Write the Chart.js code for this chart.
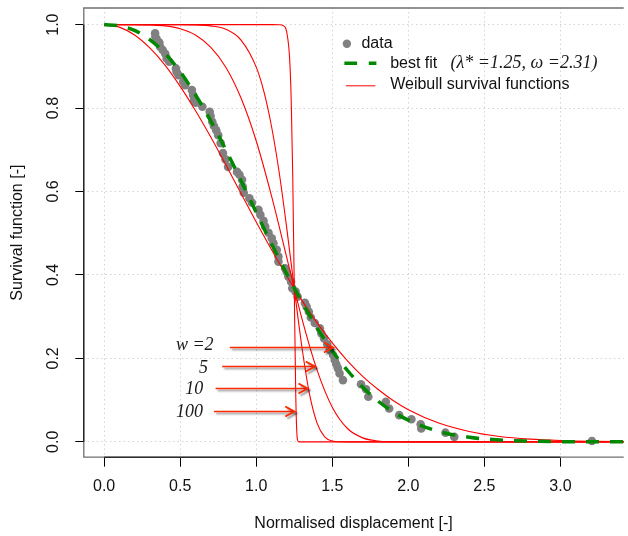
<!DOCTYPE html>
<html>
<head>
<meta charset="utf-8">
<script src="https://cdn.jsdelivr.net/npm/chart.js@4.4.0/dist/chart.umd.min.js"></script>
<style>
  html, body { margin: 0; padding: 0; background: #fff; overflow: hidden; }
  canvas { display: block; }
</style>
</head>
<body>
<canvas id="chart" width="628" height="536"></canvas>
<script>
// Observed data (normalised displacement vs empirical survival)
const dataX = [0.335, 0.337, 0.346, 0.363, 0.368, 0.385, 0.402, 0.411, 0.428, 0.472, 0.476, 0.489,
  0.520, 0.533, 0.577, 0.585, 0.592, 0.603, 0.646, 0.694, 0.700, 0.711, 0.722, 0.737, 0.750,
  0.766, 0.781, 0.798, 0.815, 0.874, 0.890, 0.907, 0.911, 0.918, 0.955, 0.972, 1.015, 1.027,
  1.048, 1.059, 1.081, 1.102, 1.113, 1.135, 1.146, 1.146, 1.190, 1.200, 1.211, 1.229, 1.237,
  1.259, 1.272, 1.320, 1.331, 1.346, 1.359, 1.385, 1.418, 1.428, 1.446, 1.467, 1.483, 1.505,
  1.516, 1.526, 1.537, 1.548, 1.570, 1.689, 1.722, 1.737, 1.852, 1.874, 1.940, 2.020, 2.081,
  2.085, 2.244, 2.302, 3.207];
const dataY = [0.979, 0.971, 0.965, 0.957, 0.947, 0.939, 0.930, 0.919, 0.911, 0.895, 0.887, 0.879,
  0.863, 0.855, 0.843, 0.831, 0.819, 0.813, 0.803, 0.791, 0.781, 0.767, 0.757, 0.747, 0.735,
  0.716, 0.692, 0.677, 0.659, 0.647, 0.640, 0.628, 0.612, 0.597, 0.584, 0.573, 0.556, 0.544,
  0.530, 0.516, 0.501, 0.488, 0.476, 0.460, 0.444, 0.432, 0.416, 0.408, 0.396, 0.384, 0.368,
  0.360, 0.348, 0.333, 0.324, 0.312, 0.298, 0.285, 0.272, 0.260, 0.248, 0.234, 0.220, 0.208,
  0.196, 0.186, 0.176, 0.164, 0.148, 0.138, 0.126, 0.108, 0.096, 0.080, 0.064, 0.054, 0.042,
  0.032, 0.022, 0.012, 0.002];

// Best fit curve
const fitX = [0, 0.1, 0.2, 0.3, 0.4, 0.5, 0.6, 0.7, 0.8, 0.9, 1.0, 1.1, 1.2, 1.3, 1.4, 1.5, 1.6,
  1.7, 1.8, 1.9, 2.0, 2.2, 2.4, 2.6, 2.8, 3.0, 3.2, 3.5];
const fitY = [1, 0.997, 0.986, 0.964, 0.931, 0.887, 0.832, 0.770, 0.700, 0.626, 0.550, 0.475,
  0.403, 0.335, 0.273, 0.218, 0.171, 0.131, 0.098, 0.072, 0.052, 0.025, 0.011, 0.0044, 0.0016,
  0.0005, 0.0002, 0];

// Weibull survival curves for w = 2, 5, 10, 100
const w2X = [0, 0.1, 0.2, 0.3, 0.4, 0.5, 0.6, 0.7, 0.8, 0.9, 1.0, 1.1, 1.2, 1.3, 1.4, 1.5, 1.6,
  1.7, 1.8, 1.9, 2.0, 2.2, 2.4, 2.6, 2.8, 3.0, 3.2, 3.5];
const w2Y = [1, 0.994, 0.975, 0.944, 0.903, 0.852, 0.794, 0.731, 0.664, 0.595, 0.527, 0.461,
  0.398, 0.339, 0.285, 0.237, 0.194, 0.157, 0.126, 0.099, 0.077, 0.045, 0.025, 0.013, 0.0066,
  0.0032, 0.0014, 0.0004];
const w5X = [0, 0.2, 0.3, 0.4, 0.5, 0.6, 0.7, 0.8, 0.9, 1.0, 1.1, 1.2, 1.3, 1.4, 1.5, 1.6, 1.7,
  1.8, 1.9, 2.0, 3.5];
const w5Y = [1, 1, 0.999, 0.997, 0.990, 0.975, 0.946, 0.898, 0.824, 0.721, 0.590, 0.443, 0.296,
  0.172, 0.083, 0.032, 0.0095, 0.002, 0.0003, 0, 0];
const w10X = [0, 0.5, 0.6, 0.7, 0.8, 0.9, 1.0, 1.05, 1.1, 1.15, 1.2, 1.25, 1.3, 1.35, 1.4, 1.45,
  1.5, 1.55, 1.6, 1.7, 3.5];
const w10Y = [1, 1, 0.999, 0.997, 0.989, 0.963, 0.898, 0.840, 0.757, 0.648, 0.514, 0.368, 0.228,
  0.115, 0.045, 0.012, 0.002, 0.0002, 0, 0, 0];
const w100X = [0, 1.1, 1.15, 1.18, 1.2, 1.22, 1.23, 1.24, 1.25, 1.26, 1.27, 1.28, 1.3, 3.5];
const w100Y = [1, 1, 0.9998, 0.997, 0.983, 0.916, 0.819, 0.639, 0.368, 0.109, 0.0075, 0, 0, 0];

const xTicks = [0, 0.5, 1.0, 1.5, 2.0, 2.5, 3.0];
const yTicks = [0, 0.2, 0.4, 0.6, 0.8, 1.0];

// arrow annotations (data units)
const arrowNotes = [
  { text: 'w =2', tx: 0.472, ty: 0.22, y: 0.228, x0: 0.826, x1: 1.504 },
  { text: '5', tx: 0.624, ty: 0.1655, y: 0.1815, x0: 0.776, x1: 1.385 },
  { text: '10', tx: 0.533, ty: 0.114, y: 0.128, x0: 0.733, x1: 1.337 },
  { text: '100', tx: 0.472, ty: 0.059, y: 0.0743, x0: 0.722, x1: 1.250 },
];

const pts = (xs, ys) => xs.map((x, i) => ({ x: x, y: ys[i] }));

const SANS = '"Liberation Sans", Arial, sans-serif';
const SERIF = '"Liberation Serif", "Times New Roman", serif';

const framePlugin = {
  id: 'frame',
  afterDraw(chart) {
    const { ctx, chartArea: a, scales: { x, y } } = chart;
    ctx.save();
    ctx.strokeStyle = '#707070';
    ctx.lineWidth = 1.3;
    ctx.beginPath();
    ctx.moveTo(a.right, a.top + 0.5);
    ctx.lineTo(a.left + 0.5, a.top + 0.5);
    ctx.lineTo(a.left + 0.5, a.bottom - 0.5);
    ctx.lineTo(a.right, a.bottom - 0.5);
    ctx.stroke();
    // axis lines over the tick range
    ctx.strokeStyle = '#000';
    ctx.lineWidth = 1;
    ctx.beginPath();
    ctx.moveTo(x.getPixelForValue(xTicks[0]), a.bottom - 0.5);
    ctx.lineTo(x.getPixelForValue(xTicks[xTicks.length - 1]), a.bottom - 0.5);
    ctx.moveTo(a.left + 0.5, y.getPixelForValue(yTicks[0]));
    ctx.lineTo(a.left + 0.5, y.getPixelForValue(yTicks[yTicks.length - 1]));
    ctx.stroke();
    ctx.restore();
  }
};

const notesPlugin = {
  id: 'notes',
  afterDatasetsDraw(chart) {
    const { ctx, scales: { x, y } } = chart;
    ctx.save();
    arrowNotes.forEach((n) => {
      const py = Math.round(y.getPixelForValue(n.y)) + 0.5;
      const p0 = x.getPixelForValue(n.x0);
      const p1 = x.getPixelForValue(n.x1);
      ctx.save();
      ctx.shadowColor = 'rgba(0,0,0,0.45)';
      ctx.shadowOffsetX = 2;
      ctx.shadowOffsetY = 2;
      ctx.shadowBlur = 2;
      ctx.strokeStyle = '#ff2a00';
      ctx.lineWidth = 1.3;
      ctx.beginPath();
      ctx.moveTo(p0, py);
      ctx.lineTo(p1, py);
      ctx.stroke();
      ctx.lineWidth = 2;
      ctx.beginPath();
      ctx.moveTo(p1 - 9, py - 5);
      ctx.lineTo(p1, py);
      ctx.lineTo(p1 - 9, py + 5);
      ctx.stroke();
      ctx.restore();
      ctx.fillStyle = '#1a1a1a';
      ctx.font = 'italic 18px ' + SERIF;
      ctx.textBaseline = 'alphabetic';
      ctx.textAlign = 'left';
      ctx.fillText(n.text, x.getPixelForValue(n.tx), y.getPixelForValue(n.ty));
    });
    ctx.restore();
  }
};

const legendPlugin = {
  id: 'customLegend',
  afterDraw(chart) {
    const { ctx, scales: { x, y } } = chart;
    const lx = x.getPixelForValue(1.596);
    const ly = y.getPixelForValue(0.954);
    ctx.save();
    ctx.textBaseline = 'middle';
    ctx.textAlign = 'left';
    ctx.fillStyle = '#808080';
    ctx.beginPath();
    ctx.arc(lx, ly, 4.2, 0, Math.PI * 2);
    ctx.fill();

    ctx.strokeStyle = '#008800';
    ctx.lineWidth = 3.5;
    ctx.setLineDash([12.7, 11.7]);
    ctx.beginPath();
    ctx.moveTo(lx - 2.5, ly + 19.5);
    ctx.lineTo(lx + 29.5, ly + 19.5);
    ctx.stroke();
    ctx.setLineDash([]);

    ctx.strokeStyle = '#ff0000';
    ctx.lineWidth = 1;
    ctx.beginPath();
    ctx.moveTo(lx - 1, ly + 42);
    ctx.lineTo(lx + 28.5, ly + 42);
    ctx.stroke();

    ctx.fillStyle = '#111';
    ctx.font = '16px ' + SANS;
    ctx.fillText('data', lx + 14.5, ly);
    ctx.fillText('best fit', lx + 43.3, ly + 20);
    ctx.fillText('Weibull survival functions', lx + 43.3, ly + 41);
    ctx.fillStyle = '#1a1a1a';
    ctx.font = 'italic 18px ' + SERIF;
    ctx.fillText('(\u03bb* =1.25, \u03c9 =2.31)', lx + 103.7, ly + 19);
    ctx.restore();
  }
};

const redLine = (xs, ys) => ({
  type: 'line',
  data: pts(xs, ys),
  borderColor: '#ff0000',
  borderWidth: 1.1,
  pointRadius: 0,
  cubicInterpolationMode: 'monotone',
  order: 2,
});

new Chart(document.getElementById('chart'), {
  type: 'scatter',
  data: {
    datasets: [
      {
        label: 'data',
        data: pts(dataX, dataY),
        backgroundColor: '#808080',
        borderWidth: 0,
        pointRadius: 4.3,
        order: 3,
      },
      redLine(w2X, w2Y),
      redLine(w5X, w5Y),
      redLine(w10X, w10Y),
      redLine(w100X, w100Y),
      {
        type: 'line',
        label: 'best fit',
        data: pts(fitX, fitY),
        borderColor: '#008800',
        borderWidth: 3.5,
        borderDash: [13, 11],
        pointRadius: 0,
        cubicInterpolationMode: 'monotone',
        order: 1,
      },
    ],
  },
  options: {
    responsive: false,
    animation: false,
    devicePixelRatio: 1,
    layout: { padding: { top: 7.5, right: 0, left: 0, bottom: 0 } },
    plugins: { legend: { display: false }, tooltip: { enabled: false } },
    scales: {
      x: {
        type: 'linear',
        min: -0.137,
        max: 3.416,
        afterBuildTicks: (s) => { s.ticks = xTicks.map((v) => ({ value: v })); },
        afterFit: (s) => {
          s.height = 78.3;
          s.paddingLeft = 0;
          s.paddingRight = 0;
        },
        grid: {
          color: '#d4d4d4',
          lineWidth: 1,
          tickColor: '#000',
          tickLength: 9,
          tickWidth: 1,
          tickBorderDash: [],
        },
        border: { display: false, dash: [1.5, 3] },
        ticks: {
          color: '#111',
          font: { family: SANS, size: 16 },
          padding: 10,
          maxRotation: 0,
          callback: (v) => v.toFixed(1),
        },
        title: {
          display: true,
          text: 'Normalised displacement [-]',
          color: '#111',
          font: { family: SANS, size: 16 },
          padding: { top: 0, bottom: 3 },
        },
      },
      y: {
        type: 'linear',
        min: -0.038,
        max: 1.041,
        afterBuildTicks: (s) => { s.ticks = yTicks.map((v) => ({ value: v })); },
        afterFit: (s) => {
          s.width = 83.3;
          s.paddingTop = 0;
          s.paddingBottom = 0;
        },
        grid: {
          color: '#d4d4d4',
          lineWidth: 1,
          tickColor: '#000',
          tickLength: 8,
          tickWidth: 1,
          tickBorderDash: [],
        },
        border: { display: false, dash: [1.5, 3] },
        ticks: {
          color: '#111',
          font: { family: SANS, size: 16 },
          padding: 11,
          minRotation: 90,
          maxRotation: 90,
          crossAlign: 'center',
          callback: (v) => v.toFixed(1),
        },
        title: {
          display: true,
          text: 'Survival function [-]',
          color: '#111',
          font: { family: SANS, size: 16 },
          padding: { top: 8, bottom: 0 },
        },
      },
    },
  },
  plugins: [framePlugin, notesPlugin, legendPlugin],
});
</script>
</body>
</html>
